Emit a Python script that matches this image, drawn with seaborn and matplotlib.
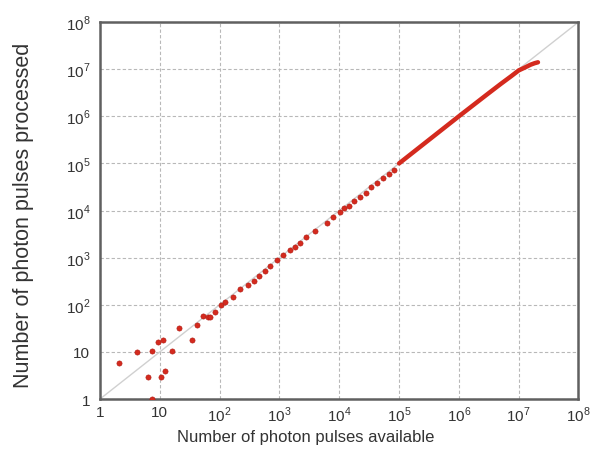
import numpy as np
import pandas as pd
import seaborn as sns
import matplotlib.pyplot as plt
from matplotlib.ticker import FixedLocator, NullLocator

# scattered points at low counts
low_available = [2.1, 4.1, 7.3, 9.5, 11.4, 15.8, 21, 34, 41.5, 52, 65, 69, 84, 106, 123, 6.4, 10.4, 12.4, 7.3]
low_processed = [5.9, 9.9, 10.5, 16, 17.7, 10.5, 32, 17.7, 38, 58, 54, 55, 72, 97, 112, 2.9, 2.9, 3.9, 1.0]

# points lying on the diagonal
mid_available = [167, 221, 296, 369, 452, 569, 700, 916, 1135, 1507, 1828, 2239, 2786, 3981,
                 6138, 7943, 10280, 12106, 14289, 17783, 22131, 27861, 34514, 43451, 54702,
                 68077, 82604]
mid_processed = [148, 215, 265, 321, 410, 522, 665, 889, 1117, 1445, 1671, 2070, 2767, 3758,
                 5458, 7161, 9290, 11298, 12618, 15560, 19231, 24044, 31261, 39084, 48306,
                 59566, 72277]

# dense run at high counts
high_available = [1.0e5, 3.0e5, 1.0e6, 3.0e6, 5.0e6, 7.5e6, 1.0e7, 1.3e7, 1.57e7, 1.85e7, 2.1e7]
high_processed = [1.0e5, 3.0e5, 1.0e6, 2.95e6, 4.85e6, 7.1e6, 9.4e6, 1.1e7, 1.24e7, 1.34e7, 1.4e7]

ideal = [1, 1e8]
tick_values = [1, 10, 1e2, 1e3, 1e4, 1e5, 1e6, 1e7, 1e8]
tick_labels = ['1', '10', '$10^2$', '$10^3$', '$10^4$', '$10^5$', '$10^6$', '$10^7$', '$10^8$']

sns.set_style('white')
plt.rcParams['font.family'] = ['Liberation Sans', 'DejaVu Sans']
plt.rcParams['mathtext.fontset'] = 'custom'
plt.rcParams['mathtext.rm'] = 'Liberation Sans'

fig = plt.figure(figsize=(5.9, 4.52), dpi=100)
ax = fig.add_axes([0.1695, 0.115, 0.811, 0.834])

red = '#d42a1e'
scatter_df = pd.DataFrame({'available': low_available + mid_available,
                           'processed': low_processed + mid_processed})
high_df = pd.DataFrame({'available': high_available, 'processed': high_processed})

ax.plot(ideal, ideal, color='#d0d0d0', lw=1.0, zorder=1)
sns.lineplot(data=high_df, x='available', y='processed', ax=ax, color=red,
             linewidth=3.2, zorder=3, solid_capstyle='round', solid_joinstyle='round')
sns.scatterplot(data=scatter_df, x='available', y='processed', ax=ax, color=red,
                s=14, edgecolor='#b01810', linewidth=0.4, zorder=3)

ax.set_xscale('log')
ax.set_yscale('log')
ax.set_xlim(1, 1e8)
ax.set_ylim(1, 1e8)
ax.xaxis.set_major_locator(FixedLocator(tick_values))
ax.yaxis.set_major_locator(FixedLocator(tick_values))
ax.xaxis.set_minor_locator(NullLocator())
ax.yaxis.set_minor_locator(NullLocator())
ax.set_xticklabels(tick_labels)
ax.set_yticklabels(tick_labels)
ax.tick_params(axis='both', length=0, labelsize=11, labelcolor='#333333')
ax.tick_params(axis='x', pad=4)
ax.tick_params(axis='y', pad=7)

ax.grid(True, which='major', color='#b8b8b8', linestyle=(0, (3, 2)), linewidth=0.8, zorder=0)
for side in ax.spines.values():
    side.set_color('#606060')
    side.set_linewidth(1.8)

ax.set_xlabel('Number of photon pulses available', fontsize=12, color='#333333')
ax.set_ylabel('Number of photon pulses processed', fontsize=15.5, color='#333333')
ax.xaxis.set_label_coords(0.43, -0.08)
ax.yaxis.set_label_coords(-0.137, 0.49)

plt.savefig('out.png', dpi=100)
